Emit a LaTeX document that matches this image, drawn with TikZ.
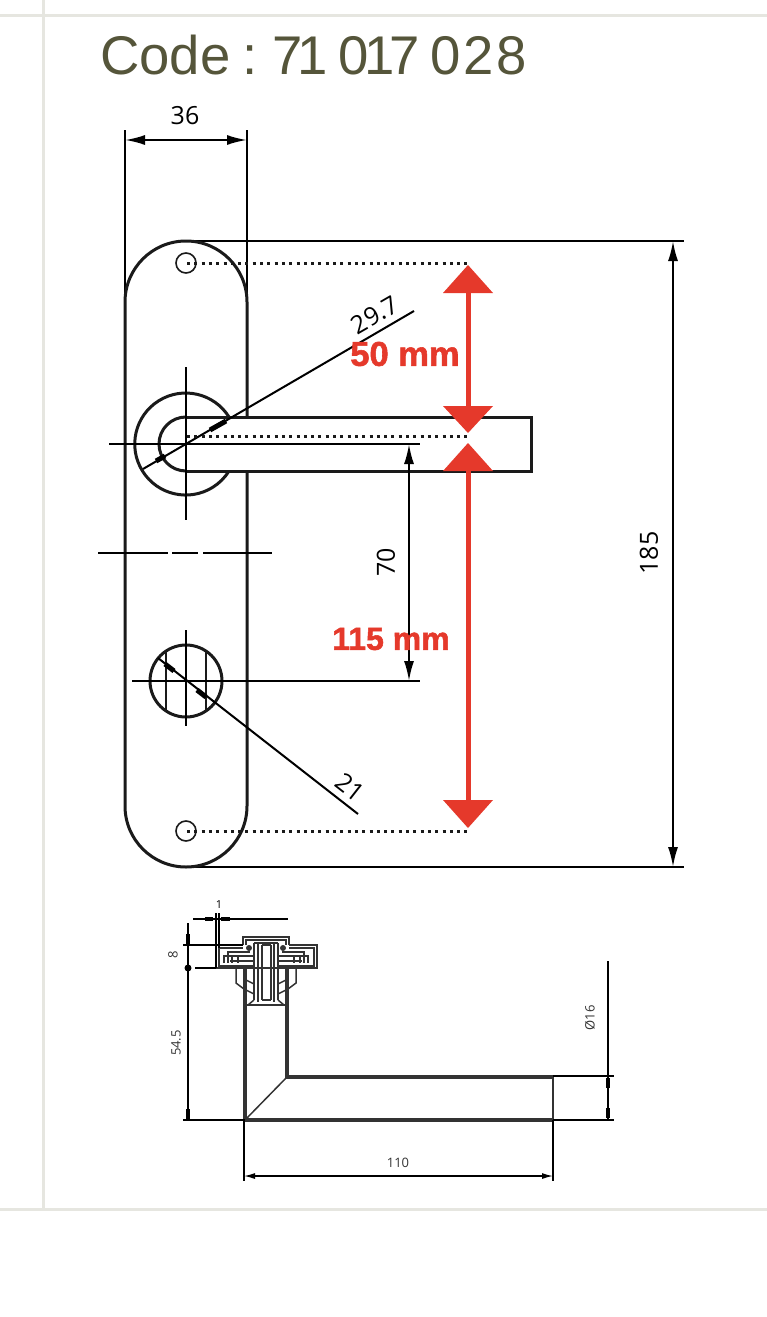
\documentclass[tikz,border=0pt]{standalone}
\usepackage{fontspec}
\setmainfont{Liberation Sans}
\newfontfamily\dimfont{Open Sans}
\newfontfamily\redfont[BoldFeatures={FakeBold=1.6}]{Liberation Sans}
\definecolor{gridgray}{HTML}{E6E6E0}
\definecolor{titlecol}{HTML}{55553A}
\definecolor{redmark}{HTML}{E5392B}
\definecolor{inkdark}{HTML}{1A1A1A}
\definecolor{mechink}{HTML}{333333}
\usetikzlibrary{arrows.meta}
\tikzset{
  grid line/.style={draw=gridgray,line width=3pt},
  outline/.style={draw=inkdark,line width=3pt},
  thinline/.style={draw=black,line width=2pt},
  dotline/.style={draw=inkdark,line width=3pt,dash pattern=on 3pt off 4.3pt},
  dimline/.style={draw=black,line width=2pt,{Latex[length=20pt,width=10pt]}-{Latex[length=20pt,width=10pt]}},
  leaderhead/.style={draw=black,line width=2pt},
  redshape/.style={fill=redmark,draw=none},
  redtext/.style={text=redmark,font=\redfont\fontsize{32}{32}\selectfont\bfseries,inner sep=0pt},
  dimtext/.style={text=black,font=\dimfont\fontsize{25}{25}\selectfont,inner sep=0pt},
  smalltext/.style={text=mechink,font=\dimfont\fontsize{13}{13}\selectfont,inner sep=0pt},
  mech/.style={draw=mechink,line width=1.5pt},
  mechthick/.style={draw=mechink,line width=3.5pt},
  lowdim/.style={draw=black,line width=1.3pt},
  lowarrow/.style={draw=black,line width=1.3pt,{Latex[length=11pt,width=6pt]}-{Latex[length=11pt,width=6pt]}},
}
\begin{document}
\begin{tikzpicture}[x=1pt,y=-1pt]
\useasboundingbox (0,0) rectangle (767,1317);
% page rules
\draw[grid line] (0,15) -- (767,15);
\draw[grid line] (43,0) -- (43,1208);
\draw[grid line] (0,1209.5) -- (767,1209.5);
% title
\node[text=titlecol,font=\fontsize{54.5}{55}\selectfont,anchor=base west,inner sep=0pt] (title) at (100,74) {Code\kern-3.5pt{} :\kern-5pt{} 7\kern-5pt{}1\kern-5pt{} 0\kern-4pt{}1\kern-5pt{}7\kern-5pt{} 0\kern3pt{}2\kern3pt{}8};

% extension lines and dims
\draw[thinline] (125,130) -- (125,302);
\draw[thinline] (247,130) -- (247,302);
\draw[dimline] (125,140) -- (247,140);
\node[dimtext] (d36) at (185,116) {36};
\draw[thinline] (186,241) -- (684,241);
\draw[thinline] (186,867) -- (684,867);
\draw[dimline] (673,241) -- (673,867);
\node[dimtext,rotate=90] (d185) at (649,553) {185};

% plate
\draw[outline] (247,417) -- (247,302) arc[start angle=0,end angle=-180,radius=61] -- (125,806) arc[start angle=180,end angle=0,radius=61] -- (247,471);
% screw holes
\draw[draw=inkdark,line width=1.6pt] (186,263) circle[radius=10];
\draw[draw=inkdark,line width=1.6pt] (186,831) circle[radius=10];
% rose and lever
\draw[outline] (229,417) arc[start angle=-32,end angle=-328,radius=51];
\draw[outline] (186,417) arc[start angle=-90,end angle=-270,radius=27];
\draw[outline] (186,417) -- (531,417) -- (531,471) -- (186,471);
% centre lines
\draw[thinline] (109,444) -- (420,444);
\draw[thinline] (186,367) -- (186,520);
% dashed axis
\draw[thinline] (98,553) -- (168,553);
\draw[thinline] (172,553) -- (198,553);
\draw[thinline] (203,553) -- (272,553);
% leader 29.7
\draw[leaderhead] (143,469) -- (414,311);
\draw[draw=black,line width=5pt] (156,461) -- (165,456);
\draw[draw=black,line width=5pt] (210,430) -- (226,421);
\node[dimtext,rotate=30] (d297) at (375,315) {29.7};
% thumbturn
\draw[outline] (186,681) circle[radius=36];
\draw[draw=inkdark,line width=2.4pt] (166,651) -- (166,711);
\draw[draw=inkdark,line width=2.4pt] (206,651) -- (206,711);
\draw[thinline] (186,630) -- (186,726);
\draw[thinline] (132,681) -- (420,681);
\draw[leaderhead] (158,658) -- (358,814);
\draw[draw=black,line width=5pt] (165,664) -- (174,671);
\draw[draw=black,line width=5pt] (197,690) -- (206,697);
\node[dimtext,rotate=-38] (d21) at (350,787) {21};
% dim 70
\draw[dimline] (409,444) -- (409,681);
\node[dimtext,rotate=90] (d70) at (386,562) {70};
% dotted
\draw[dotline] (187,263) -- (468,263);
\draw[dotline] (187,436) -- (468,436);
\draw[dotline] (187,831) -- (468,831);
% red arrows
\fill[redshape] (465.5,290) rectangle (470.5,410);
\fill[redshape] (468,265) -- (493,293) -- (443,293) -- cycle;
\fill[redshape] (468,433) -- (493,406) -- (443,406) -- cycle;
\fill[redshape] (465.5,468) rectangle (470.5,803);
\fill[redshape] (468,443) -- (493,471) -- (443,471) -- cycle;
\fill[redshape] (468,828) -- (493,800) -- (443,800) -- cycle;
\node[redtext,font=\redfont\fontsize{34.5}{34}\selectfont\bfseries] (l50) at (405,354) {50 mm};
\node[redtext] (l115) at (391,639) {115 mm};

% ----- lower drawing -----
% body and lever
\draw[mechthick] (245,1005) -- (245,1120) -- (553,1120);
\draw[mechthick] (287,1005) -- (287,1077) -- (553,1077);
\draw[draw=mechink,line width=2.4pt] (553,1077) -- (553,1120);
\draw[mech] (245,1120) -- (287,1077);
% mechanism
\draw[mech] (243,945) -- (243,937) -- (289,937) -- (289,945);
\draw[mech] (246,945) -- (246,940) -- (286,940) -- (286,945);
\draw[mech] (243,945) -- (216,945) -- (216,968) -- (317,968) -- (317,945) -- (289,945);
\draw[mech] (219,968) -- (219,948) -- (243,948);
\draw[mech] (314,968) -- (314,948) -- (289,948);
\draw[mechthick,line width=2.5pt] (219,966) -- (254,966);
\draw[mechthick,line width=2.5pt] (278,966) -- (314,966);
\draw[mech] (224,963) -- (224,956) -- (254,956);
\draw[mech] (308,963) -- (308,956) -- (278,956);
\draw[mech] (228,963) -- (228,952) -- (250,952);
\draw[mech] (304,963) -- (304,952) -- (282,952);
\draw[mech] (232,956) -- (232,963);
\draw[mech] (238,956) -- (238,963);
\draw[mech] (294,956) -- (294,963);
\draw[mech] (300,956) -- (300,963);
\draw[mech] (230,961) -- (254,961);
\draw[mech] (278,961) -- (302,961);
\fill[mechink] (249,948) circle[radius=3];
\fill[mechink] (283,948) circle[radius=3];
% shaft
\draw[mech] (254,943) -- (254,1000);
\draw[mech] (258,943) -- (258,1002);
\draw[mech] (262,945) -- (262,1000);
\draw[mech] (271,945) -- (271,1000);
\draw[mech] (274,943) -- (274,1002);
\draw[mech] (278,943) -- (278,1000);
\draw[mech] (254,943) -- (278,943);
\draw[mech] (262,945) -- (271,945);
\draw[mech] (262,1000) -- (271,1000);
% sleeve
\draw[mechthick] (245,968) -- (245,1005);
\draw[mechthick] (287,968) -- (287,1005);
\draw[mechthick,line width=2.5pt] (245,1005) -- (287,1005);
\draw[mech] (254,1000) -- (248,1005);
\draw[mech] (278,1000) -- (284,1005);
\draw[mech] (246,980) -- (254,984);
\draw[mech] (286,980) -- (278,984);
\draw[mech] (246,990) -- (254,994);
\draw[mech] (286,990) -- (278,994);
% skirts
\draw[mech] (236,968) -- (236,983) -- (244,989);
\draw[mech] (296,968) -- (296,983) -- (288,989);
% lower dimensions
\draw[lowdim] (193,919) -- (288,919);
\draw[draw=black,line width=4pt] (205,919) -- (213,919);
\draw[draw=black,line width=4pt] (221,919) -- (230,919);
\draw[lowdim] (216,913) -- (216,968);
\draw[lowdim] (219,913) -- (219,948);
\node[smalltext,text=black,font=\dimfont\fontsize{11}{11}\selectfont] (d1) at (219,905) {1};
\draw[lowdim] (188,923) -- (188,1120);
\draw[draw=black,line width=4pt] (188,934) -- (188,945);
\draw[draw=black,line width=4pt] (188,1109) -- (188,1120);
\fill[black] (188,968) circle[radius=3.5];
\draw[lowdim] (183,945) -- (243,945);
\draw[lowdim] (195,968) -- (216,968);
\draw[lowdim] (183,1120) -- (245,1120);
\node[smalltext,rotate=90] (d8) at (173,955) {8};
\node[smalltext,rotate=90] (d545) at (176,1043) {54.5};
\draw[lowdim] (608,961) -- (608,1120);
\draw[lowdim] (553,1076) -- (614,1076);
\draw[lowdim] (553,1120) -- (614,1120);
\draw[draw=black,line width=4pt] (608,1078) -- (608,1088);
\draw[draw=black,line width=4pt] (608,1108) -- (608,1118);
\node[smalltext,rotate=90] (d16) at (590,1018) {Ø16};
\draw[lowdim] (244,1120) -- (244,1181);
\draw[lowdim] (553,1120) -- (553,1181);
\draw[lowarrow] (244,1176) -- (553,1176);
\node[smalltext] (d110) at (398,1163) {110};
\end{tikzpicture}
\end{document}
